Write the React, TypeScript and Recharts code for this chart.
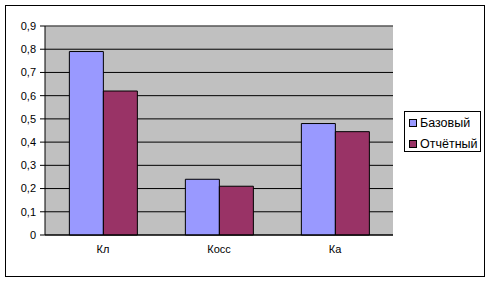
import React from 'react';
import { BarChart, Bar, XAxis, YAxis, CartesianGrid, ReferenceLine } from 'recharts';

const categories = ['Кл', 'Косс', 'Ка'];
const baseValues = [0.79, 0.24, 0.48];
const reportValues = [0.62, 0.21, 0.445];
const yTicks = [0, 0.1, 0.2, 0.3, 0.4, 0.5, 0.6, 0.7, 0.8, 0.9];
const boundaryTicks = [0, 1, 2, 3];
const seriesNames = ['Базовый', 'Отчётный'];
const seriesColors = ['#9999FF', '#993366'];

const data = categories.map((c, i) => ({ name: c, base: baseValues[i], report: reportValues[i] }));

const FONT = '"Liberation Sans", Arial, sans-serif';

const LegendBox = () => (
  <div
    style={{
      position: 'absolute',
      left: 404,
      top: 111,
      border: '1px solid #000',
      background: '#fff',
      width: 75,
      height: 39,
      boxSizing: 'content-box',
      fontFamily: FONT,
      fontSize: 12.5,
      color: '#000',
    }}
  >
    {seriesNames.map((n, i) => (
      <div
        key={n}
        style={{ position: 'absolute', left: 4, top: 3 + i * 21, height: 15, display: 'flex', alignItems: 'center', whiteSpace: 'nowrap' }}
      >
        <span
          style={{ display: 'inline-block', width: 6, height: 6, border: '1px solid #000', background: seriesColors[i], marginRight: 3 }}
        />
        <span>{n}</span>
      </div>
    ))}
  </div>
);

export default function App() {
  return (
    <div style={{ position: 'absolute', left: 0, top: 0, width: 491, height: 282, background: '#fff' }}>
      <div
        style={{ position: 'absolute', left: 5, top: 5, width: 478, height: 270, border: '1px solid #000', pointerEvents: 'none' }}
      />
      <BarChart
        width={491}
        height={282}
        data={data}
        margin={{ top: 26, right: 98, bottom: 17, left: 0 }}
        barCategoryGap="21%"
        barGap={0}
        style={{ fontFamily: FONT }}
      >
        <CartesianGrid vertical={false} stroke="#000" fill="#C0C0C0" fillOpacity={1} />
        <XAxis
          xAxisId="b"
          type="number"
          domain={[0, 3]}
          ticks={boundaryTicks}
          tick={false}
          height={0}
          axisLine={false}
          tickLine={{ stroke: '#000' }}
          tickSize={5}
        />
        <XAxis
          xAxisId="cat"
          dataKey="name"
          height={30}
          tickLine={false}
          tickSize={6}
          tickMargin={4}
          axisLine={{ stroke: '#000' }}
          tick={{ fill: '#000', fontSize: 11, fontFamily: FONT }}
        />
        <YAxis
          width={45}
          domain={[0, 0.9]}
          ticks={yTicks}
          interval={0}
          tickSize={5}
          tickMargin={4}
          axisLine={{ stroke: '#000' }}
          tickLine={{ stroke: '#000' }}
          tick={{ fill: '#000', fontSize: 11, fontFamily: FONT }}
          tickFormatter={(v: number) => String(v).replace('.', ',')}
        />
        <YAxis yAxisId="r" orientation="right" width={0} domain={[0, 0.9]} tick={false} tickLine={false} axisLine={{ stroke: '#808080' }} />
        <ReferenceLine xAxisId="cat" y={0.9} stroke="#808080" />
        <Bar xAxisId="cat" dataKey="base" name={seriesNames[0]} fill={seriesColors[0]} stroke="#000" strokeWidth={1} isAnimationActive={false} />
        <Bar xAxisId="cat" dataKey="report" name={seriesNames[1]} fill={seriesColors[1]} stroke="#000" strokeWidth={1} isAnimationActive={false} />
      </BarChart>
      <LegendBox />
    </div>
  );
}
